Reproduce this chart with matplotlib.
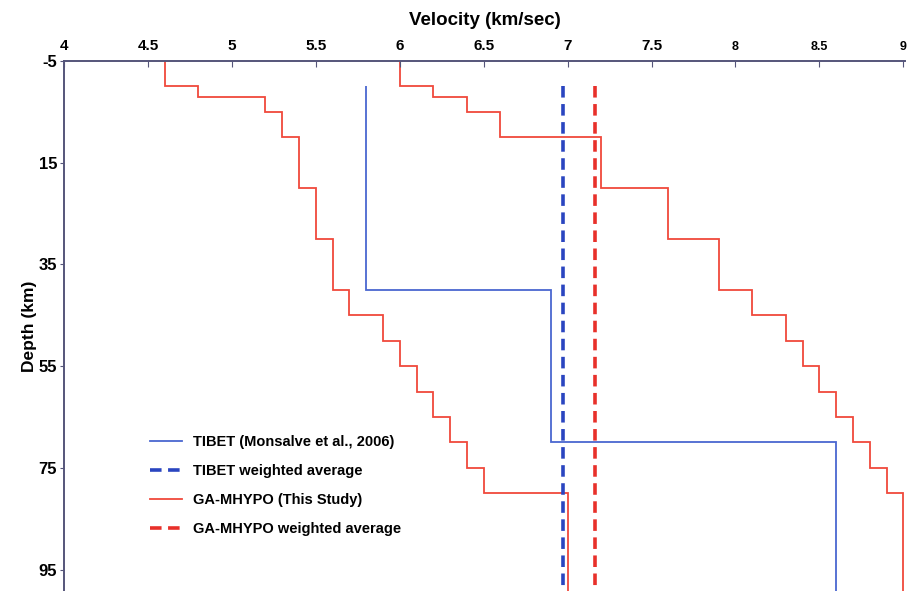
import matplotlib
matplotlib.use("Agg")
from matplotlib import pyplot as plt

plt.rcParams['font.family'] = ['Liberation Sans', 'DejaVu Sans']
plt.rcParams['font.weight'] = 'bold'

# TIBET model (Monsalve et al., 2006): layer tops/bottoms (km) and velocity (km/s)
tibet_depth = [0, 40, 70, 110]
tibet_vel = [5.8, 6.9, 8.6]

# GA-MHYPO, slow curve
ga_slow_depth = [-5, 0, 2, 5, 10, 20, 30, 40, 45, 50, 55, 60, 65, 70, 75, 80, 110]
ga_slow_vel = [4.6, 4.8, 5.2, 5.3, 5.4, 5.5, 5.6, 5.7, 5.9, 6.0, 6.1, 6.2, 6.3, 6.4, 6.5, 7.0]

# GA-MHYPO, fast curve
ga_fast_depth = [-5, 0, 2, 5, 10, 20, 30, 40, 45, 50, 55, 60, 65, 70, 75, 80, 110]
ga_fast_vel = [6.0, 6.2, 6.4, 6.6, 7.2, 7.6, 7.9, 8.1, 8.3, 8.4, 8.5, 8.6, 8.7, 8.8, 8.9, 9.0]

tibet_avg = 6.97
ga_avg = 7.165
avg_top = 0

xticks = [4, 4.5, 5, 5.5, 6, 6.5, 7, 7.5, 8, 8.5, 9]
yticks = [-5, 15, 35, 55, 75, 95]

fig = plt.figure(figsize=(9.13, 5.91), dpi=100)
ax = fig.add_axes([64 / 913, 0, (905 - 64) / 913, 1 - 61 / 591])

blue = '#4a67d0'
red = '#f0493c'

ax.stairs(tibet_vel, tibet_depth, orientation='horizontal', baseline=None,
          color=blue, lw=1.3, label='TIBET (Monsalve et al., 2006)')
ax.plot([tibet_avg, tibet_avg], [avg_top, 110], color='#2a45c0', lw=2.6,
        dashes=(3.2, 1.8), label='TIBET weighted average')
ax.stairs(ga_slow_vel, ga_slow_depth, orientation='horizontal', baseline=None,
          color=red, lw=1.3, label='GA-MHYPO (This Study)')
ax.stairs(ga_fast_vel, ga_fast_depth, orientation='horizontal', baseline=None,
          color=red, lw=1.3)
ax.plot([ga_avg, ga_avg], [avg_top, 110], color='#e8302a', lw=2.6,
        dashes=(3.2, 1.8), label='GA-MHYPO weighted average')

ax.set_xlim(4, 9.01)
ax.set_ylim(99.2, -5)
ax.xaxis.tick_top()
ax.xaxis.set_label_position('top')
ax.set_xticks(xticks)
ax.set_xticklabels([('%g' % v) for v in xticks], fontweight='bold')
for lab, v in zip(ax.get_xticklabels(), xticks):
    lab.set_fontsize(9 if v >= 8 else 11)
ax.set_yticks(yticks)
ax.set_yticklabels([str(v) for v in yticks], fontsize=12, fontweight='bold')
ax.set_xlabel('Velocity (km/sec)', fontsize=13.5, fontweight='bold', labelpad=10)
ax.set_ylabel('Depth (km)', fontsize=12.5, fontweight='bold', labelpad=1)

axis_col = '#55557a'
for s in ['right', 'bottom']:
    ax.spines[s].set_visible(False)
for s in ['top', 'left']:
    ax.spines[s].set_color(axis_col)
    ax.spines[s].set_linewidth(1.4)
ax.tick_params(axis='x', direction='in', length=4, color=axis_col, pad=6)
ax.tick_params(axis='y', direction='out', length=3, color=axis_col, pad=2)

ax.legend(loc='upper left', bbox_to_anchor=(143 / 913, 1 - 428 / 591),
          bbox_transform=fig.transFigure, frameon=False, fontsize=10.5,
          handlelength=2.2, labelspacing=1.03, borderpad=0, handletextpad=0.75)

fig.savefig('out.png', dpi=100)
